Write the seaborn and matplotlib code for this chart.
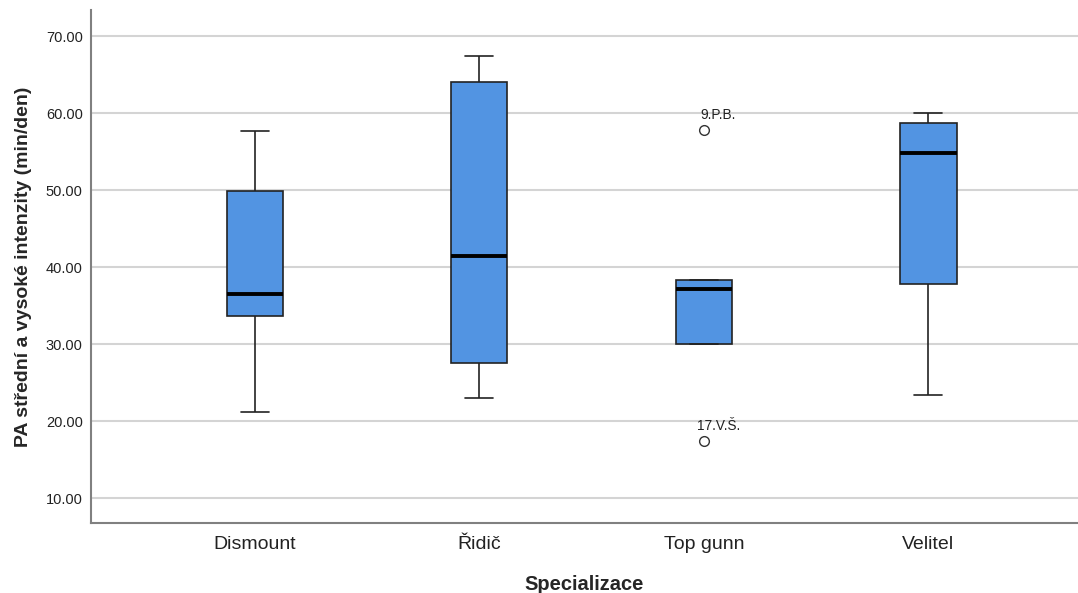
import pandas as pd
import numpy as np
import matplotlib
matplotlib.use('Agg')
import matplotlib.pyplot as plt
import seaborn as sns

# Data
categories = ["Dismount", "Řidič", "Top gunn", "Velitel"]
dismount = [21.2, 33.6, 36.5, 49.9, 57.7]
ridic = [23.0, 27.6, 41.5, 64.0, 67.4]
top_gunn = [17.4, 30.0, 30.0, 37.1, 38.3, 38.3, 57.8]
velitel = [23.4, 37.8, 54.8, 58.7, 60.0]

outlier_cat = ["Top gunn", "Top gunn"]
outlier_val = [57.8, 17.4]
outlier_lab = ["9.P.B.", "17.V.Š."]

yticks = [10, 20, 30, 40, 50, 60, 70]

df = pd.DataFrame({
    "Specializace": (["Dismount"] * len(dismount) + ["Řidič"] * len(ridic)
                     + ["Top gunn"] * len(top_gunn) + ["Velitel"] * len(velitel)),
    "value": dismount + ridic + top_gunn + velitel,
})

sns.set_style("white")
plt.rcParams['font.family'] = ['Liberation Sans', 'DejaVu Sans']

fig = plt.figure(figsize=(10.78, 5.93), dpi=100)
ax = fig.add_axes([0.0844, 0.118, 0.9156, 0.865])

for y in yticks:
    ax.axhline(y, color='#d4d4d4', lw=1.5, zorder=0)

sns.boxplot(data=df, x="Specializace", y="value", order=categories, ax=ax,
            color="#5294E2", saturation=1, width=0.25, linecolor="#222222",
            linewidth=1.2, whis=1.5,
            medianprops=dict(color='black', linewidth=2.8),
            flierprops=dict(marker='o', markersize=7, markerfacecolor='white',
                            markeredgecolor='#333333', markeredgewidth=1.0))

# outlier case labels, centred a bit right of the point like SPSS does
for c, v, lab in zip(outlier_cat, outlier_val, outlier_lab):
    ax.annotate(lab, (categories.index(c), v), xytext=(10.5, 6),
                textcoords='offset points', fontsize=9.8, color='#222222',
                ha='center', va='bottom')

ax.set_xlim(-0.73, 3.666)
ax.set_ylim(6.75, 73.4)
ax.set_yticks(yticks)
ax.set_yticklabels([f"{t:.2f}" for t in yticks], fontsize=10.5, color='#222222')
ax.tick_params(axis='x', labelsize=14, colors='#222222', length=0, pad=9)
ax.tick_params(axis='y', length=0, pad=6)

ax.set_xlabel("Specializace", fontsize=14.5, fontweight='bold', labelpad=16)
ax.set_ylabel("PA střední a vysoké intenzity (min/den)", fontsize=14,
              fontweight='bold', labelpad=10)

for s in ['top', 'right']:
    ax.spines[s].set_visible(False)
for s in ['left', 'bottom']:
    ax.spines[s].set_color('#808080')
    ax.spines[s].set_linewidth(1.5)

plt.savefig('out.png', dpi=100)
